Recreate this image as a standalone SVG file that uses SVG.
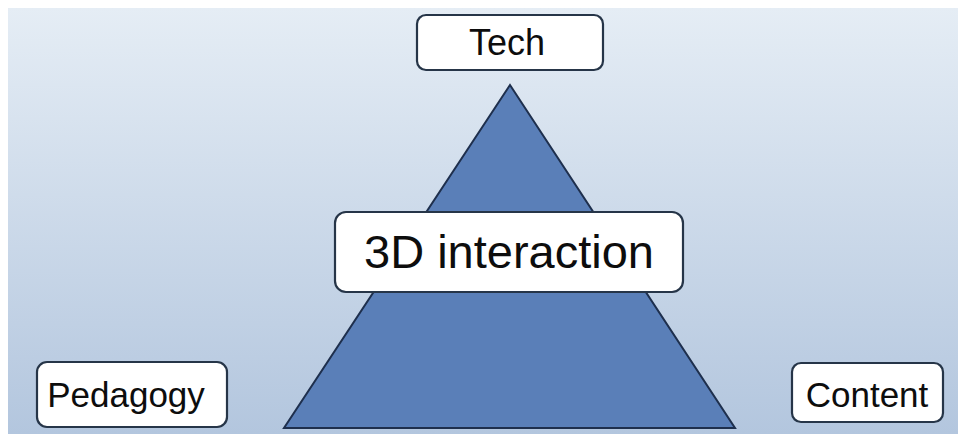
<svg xmlns="http://www.w3.org/2000/svg" width="958" height="434" viewBox="0 0 958 434">
<defs>
<linearGradient id="bg" x1="0" y1="0" x2="0" y2="1">
<stop offset="0" stop-color="#e5edf5"/>
<stop offset="1" stop-color="#b3c6de"/>
</linearGradient>
</defs>
<style>
.box{fill:#ffffff;stroke:#263548;stroke-width:2.2}
.lbl{font-family:"Liberation Sans",Arial,sans-serif;fill:#0d0d0d;text-anchor:middle}
</style>
<rect x="0" y="0" width="958" height="434" fill="#ffffff"/>
<rect x="8" y="8" width="950" height="426" fill="url(#bg)"/>
<g id="pyramid">
<polygon points="510,85 284,428 735,428" fill="#5a7fb8" stroke="#1e2f4d" stroke-width="2"/>
</g>
<g id="tech">
<rect class="box" x="417" y="15" width="186" height="55" rx="9"/>
<text class="lbl" x="507" y="55" font-size="36">Tech</text>
</g>
<g id="center">
<rect class="box" x="335" y="212" width="348" height="80" rx="11"/>
<text class="lbl" x="509" y="268" font-size="47">3D interaction</text>
</g>
<g id="pedagogy">
<rect class="box" x="37" y="362" width="190" height="65" rx="10"/>
<text class="lbl" x="126" y="407" font-size="35">Pedagogy</text>
</g>
<g id="content">
<rect class="box" x="792" y="363" width="151" height="59" rx="9"/>
<text class="lbl" x="867" y="407" font-size="35">Content</text>
</g>
<g id="connectors"></g>
</svg>
